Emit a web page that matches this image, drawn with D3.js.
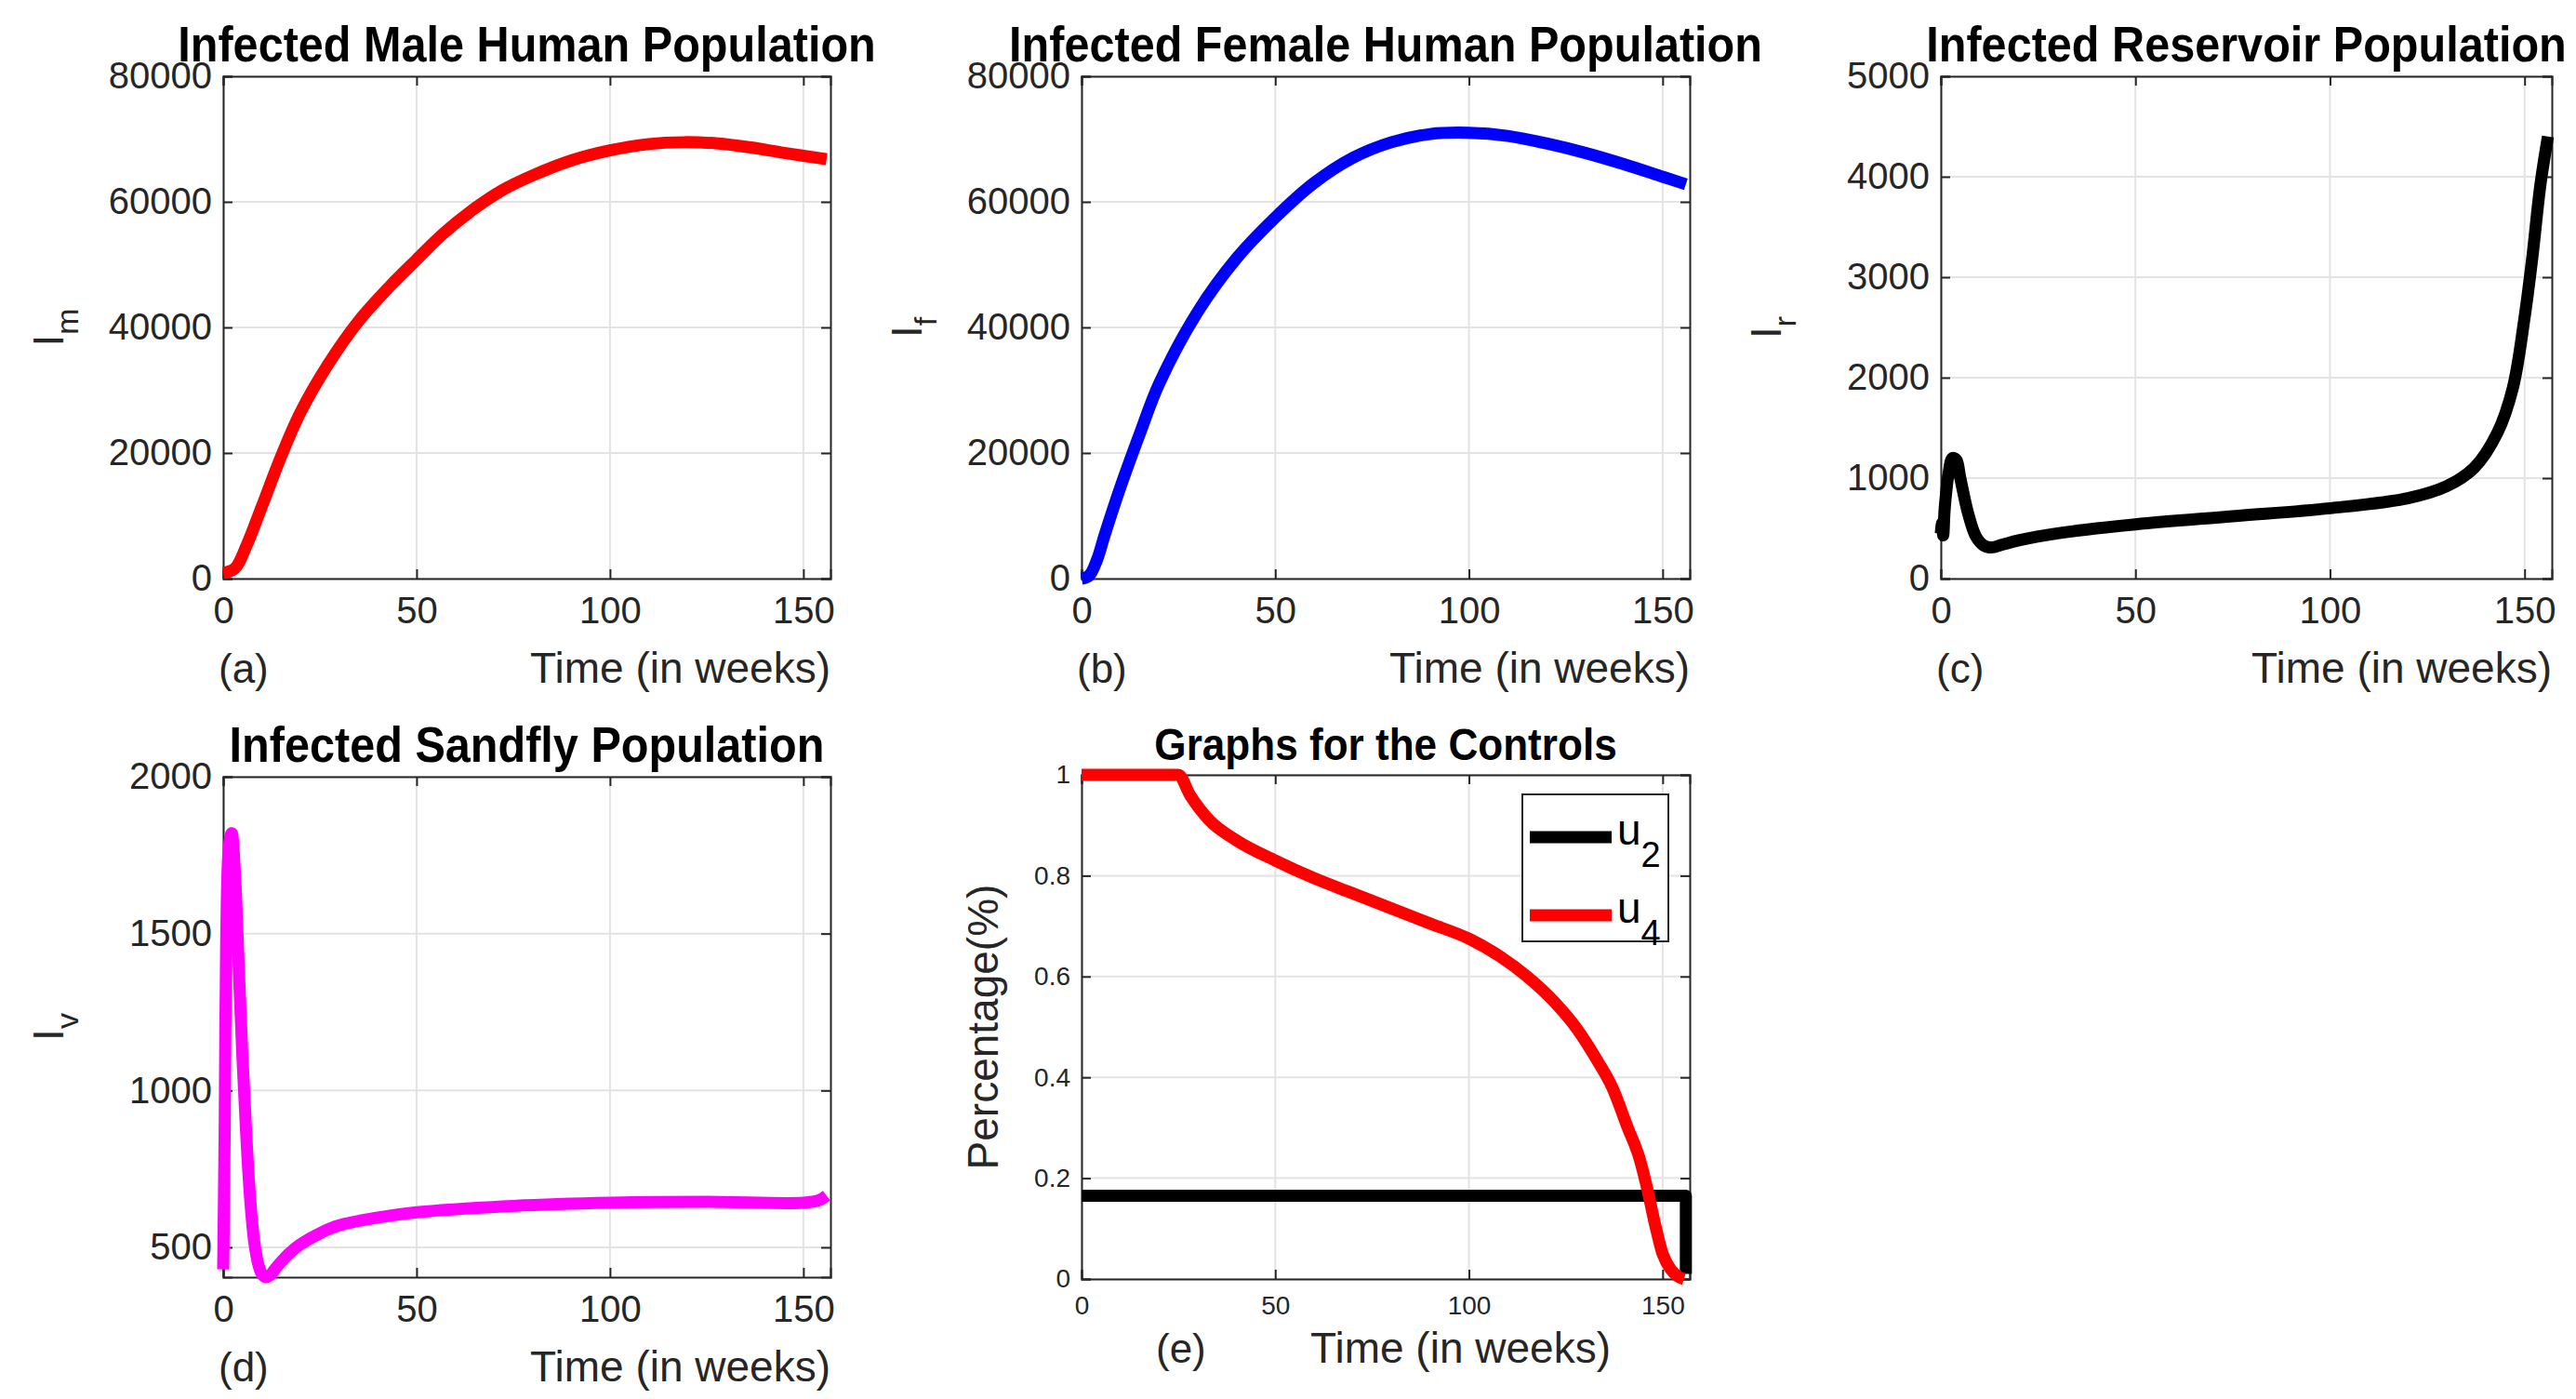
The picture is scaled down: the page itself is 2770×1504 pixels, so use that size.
<!DOCTYPE html>
<html><head><meta charset="utf-8">
<script src="https://cdn.jsdelivr.net/npm/d3@7"></script>
<style>body{margin:0;background:#fff}text{font-family:"Liberation Sans",Arial,sans-serif}</style>
</head><body><div id="wrapper"></div>
<script>
// data
const imT = [0,3,6,10,15,20,27,35,43,50,57,64,72,80,90,100,110,119,128,136,145,156];
const imV = [900,1600,5200,11500,19500,26500,34000,41000,46500,50800,55000,58500,61800,64200,66600,68200,69200,69500,69300,68700,67800,66800];
const ifT = [0,2,4,6,10,15,20,30,40,50,60,70,80,90,100,110,120,130,140,150,156];
const ifV = [0,500,3000,7000,14500,23000,31000,42500,51000,57500,63000,67000,69500,70800,71000,70500,69300,67800,66000,64000,62800];
const irT = [0,0.3,0.6,1,2,3,4,5,7,9,11,13,16,20,30,50,75,100,120,130,137,143,147,150,152,154,156];
const irV = [450,550,430,700,1050,1200,1180,1000,650,420,330,310,340,380,450,540,620,700,800,920,1100,1450,1900,2600,3200,3900,4400];
const ivT = [0,0.4,0.8,1.5,2.2,3,4,5,6,7,8,9,10,11,12,14,17,20,25,30,40,50,75,100,125,150,154,156];
const ivV = [430,900,1500,1780,1820,1700,1400,1100,850,650,520,450,415,405,410,440,480,510,545,570,595,612,632,642,645,642,650,665];
const u4T = [0,25,28,33,40,50,60,70,80,90,100,108,115,122,128,133,137,141,144,146,148,150,152,154,155.5];
const u4V = [1,1,0.96,0.91,0.87,0.83,0.795,0.765,0.735,0.705,0.675,0.64,0.6,0.55,0.495,0.435,0.38,0.3,0.24,0.18,0.11,0.05,0.02,0.005,0];
const u2T = [0,155.5,156,156];
const u2V = [0.165,0.165,0.165,0.01];

const svg = d3.select("#wrapper").append("svg").attr("width",2770).attr("height",1504);

const smooth = d3.curveCatmullRom.alpha(0.5);
const panels = [
  {x:240,y:82,w:653,h:540,title:"Infected Male Human Population",ylab:["I","m"],ydom:[0,80000],yt:[0,20000,40000,60000,80000],tag:"(a)",
   series:[{t:imT,v:imV,c:"#ff0000",cv:smooth}],big:true},
  {x:1163,y:82,w:654,h:540,title:"Infected Female Human Population",ylab:["I","f"],ydom:[0,80000],yt:[0,20000,40000,60000,80000],tag:"(b)",
   series:[{t:ifT,v:ifV,c:"#0000ff",cv:smooth}],big:true},
  {x:2087,y:82,w:657,h:540,title:"Infected Reservoir Population",ylab:["I","r"],ydom:[0,5000],yt:[0,1000,2000,3000,4000,5000],tag:"(c)",
   series:[{t:irT,v:irV,c:"#000000",cv:smooth}],big:true},
  {x:240,y:835,w:653,h:538,title:"Infected Sandfly Population",ylab:["I","v"],ydom:[405,2000],yt:[500,1000,1500,2000],tag:"(d)",
   series:[{t:ivT,v:ivV,c:"#ff00ff",cv:smooth}],big:true},
  {x:1163,y:833,w:654,h:542,title:"Graphs for the Controls",ylab:["Percentage(%)",""],ydom:[0,1],yt:[0,0.2,0.4,0.6,0.8,1],tag:"(e)",
   series:[{t:u2T,v:u2V,c:"#000000",cv:d3.curveLinear},{t:u4T,v:u4V,c:"#ff0000",cv:d3.curveMonotoneX}],big:false}
];

panels.forEach(p => {
  const g = svg.append("g").attr("transform",`translate(${p.x},${p.y})`);
  const x = d3.scaleLinear().domain([0,157]).range([0,p.w]);
  const y = d3.scaleLinear().domain(p.ydom).range([p.h,0]);
  const xt = [0,50,100,150];
  const fs = p.big ? 40 : 28;
  // grid
  g.selectAll(".gx").data(xt).enter().append("line")
    .attr("x1",d=>x(d)).attr("x2",d=>x(d)).attr("y1",0).attr("y2",p.h).attr("stroke","#e3e3e3").attr("stroke-width",2);
  g.selectAll(".gy").data(p.yt).enter().append("line")
    .attr("y1",d=>y(d)).attr("y2",d=>y(d)).attr("x1",0).attr("x2",p.w).attr("stroke","#e3e3e3").attr("stroke-width",2);
  // axes
  const xa = g.append("g").attr("transform",`translate(0,${p.h})`)
    .call(d3.axisBottom(x).tickValues(xt).tickSize(-10).tickPadding(p.big?20:18));
  const ya = g.append("g").call(d3.axisLeft(y).tickValues(p.yt).tickSize(-10).tickPadding(12).tickFormat(d=>String(d)));
  g.append("g").call(d3.axisTop(x).tickValues(xt).tickSize(-10).tickFormat(""));
  g.append("g").attr("transform",`translate(${p.w},0)`).call(d3.axisRight(y).tickValues(p.yt).tickSize(-10).tickFormat(""));
  g.selectAll(".domain").attr("stroke","#262626").attr("stroke-width",2);
  g.selectAll(".tick line").attr("stroke","#262626").attr("stroke-width",2);
  [xa,ya].forEach(a=>a.selectAll("text").attr("font-size",fs).attr("fill","#262626").style("font-family","Liberation Sans"));
  // lines
  p.series.forEach(s => {
    const pts = s.t.map((t,i)=>[t,s.v[i]]);
    g.append("path").datum(pts)
      .attr("d", d3.line().x(d=>x(d[0])).y(d=>y(d[1])).curve(s.cv))
      .attr("fill","none").attr("stroke",s.c).attr("stroke-width",13).attr("stroke-linejoin","round");
  });
  // title
  g.append("text").attr("x",p.w/2).attr("y",-16).attr("text-anchor","middle")
    .attr("font-size",p.big?54:49).attr("font-weight","bold").attr("fill","#000")
    .attr("transform",`translate(${p.w/2},0) scale(0.9,1) translate(${-p.w/2},0)`)
    .text(p.title);
  // x label and tag
  g.append("text").attr("x",p.big?p.w:p.w*0.87).attr("y",p.h+(p.big?112:90)).attr("text-anchor","end")
    .attr("font-size",46).attr("fill","#262626").text("Time (in weeks)");
  g.append("text").attr("x",p.big?-5:80).attr("y",p.h+(p.big?112:90))
    .attr("font-size",44).attr("fill","#262626").text(p.tag);
  // y label
  const yl = g.append("text").attr("transform",`translate(${p.big?-172:-90},${p.h/2}) rotate(-90)`)
    .attr("text-anchor","middle").attr("font-size",46).attr("fill","#262626");
  yl.append("tspan").text(p.ylab[0]);
  if (p.ylab[1]) yl.append("tspan").attr("font-size",34).attr("dy",16).text(p.ylab[1]);
});

// legend for panel e
const lg = svg.append("g").attr("transform","translate(1637,854)");
lg.append("rect").attr("width",157).attr("height",158).attr("fill","#fff").attr("stroke","#262626").attr("stroke-width",2);
const legItems = [{n:"u",s:"2",c:"#000000"},{n:"u",s:"4",c:"#ff0000"}];
legItems.forEach((d,i)=>{
  const yy = 46 + i*84;
  lg.append("line").attr("x1",8).attr("x2",96).attr("y1",yy).attr("y2",yy).attr("stroke",d.c).attr("stroke-width",13);
  const t = lg.append("text").attr("x",102).attr("y",yy+8).attr("font-size",46).attr("fill","#000");
  t.append("tspan").text(d.n);
  t.append("tspan").attr("dy",24).attr("font-size",38).text(d.s);
});
</script></body></html>
